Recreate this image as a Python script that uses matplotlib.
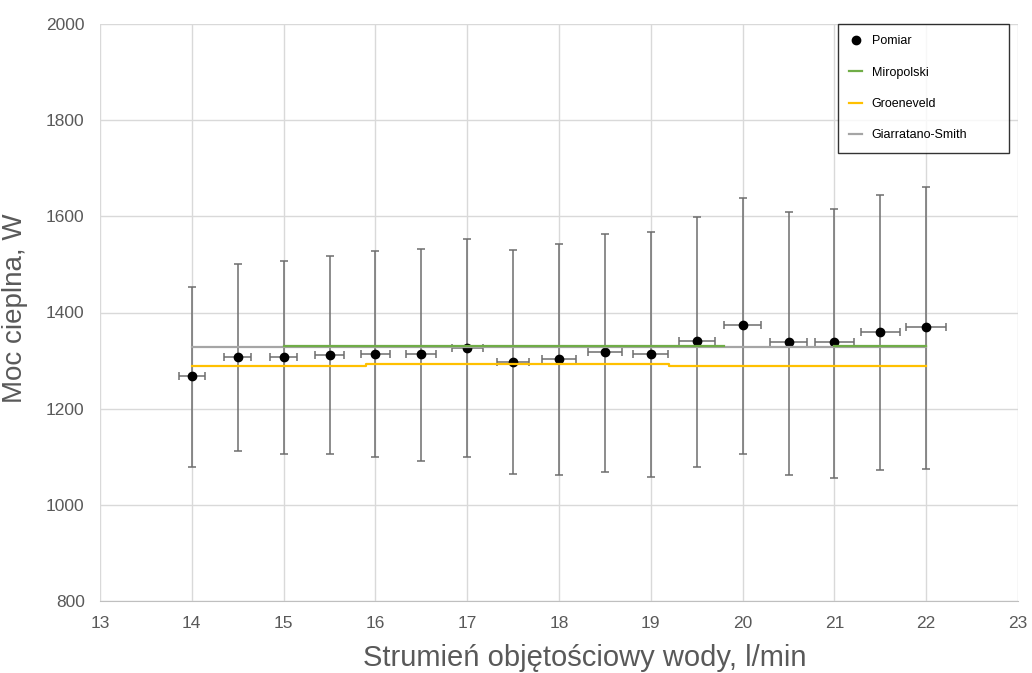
import numpy as np
import matplotlib
matplotlib.use("Agg")
import matplotlib.pyplot as plt
from matplotlib.lines import Line2D

plt.rcParams['font.family'] = ['Liberation Sans', 'DejaVu Sans']

# pomiar: strumien [l/min], moc [W], dolna i gorna granica bledu [W]
flow = [14, 14.5, 15, 15.5, 16, 16.5, 17, 17.5, 18, 18.5, 19, 19.5, 20, 20.5, 21, 21.5, 22]
power = [1268, 1307, 1307, 1311, 1313, 1313, 1326, 1297, 1303, 1318, 1313, 1340, 1374, 1338, 1338, 1359, 1370]
power_lo = [1079, 1112, 1106, 1106, 1100, 1092, 1100, 1064, 1062, 1069, 1058, 1079, 1106, 1062, 1056, 1073, 1075]
power_hi = [1453, 1500, 1507, 1517, 1527, 1532, 1553, 1530, 1542, 1563, 1567, 1598, 1638, 1609, 1615, 1644, 1661]
flow_rel_err = 0.01

# korelacje (schodkowo); nan = odcinek schowany pod Giarratano-Smith
mir_x = [14, 15, 19.8, 21, 22]
mir_y = [np.nan, 1331, np.nan, 1330, 1330]
gro_x = [14, 15.9, 19.2, 22]
gro_y = [1289, 1293, 1289, 1289]
gs_x = [14, 22]
gs_y = [1328, 1328]

W, H = 1032, 673
fig = plt.figure(figsize=(W / 100, H / 100), dpi=100)
ax = fig.add_axes([100 / W, 1 - 601 / H, 918 / W, 577 / H])

flow = np.array(flow)
power = np.array(power)
yerr = [power - np.array(power_lo), np.array(power_hi) - power]
xerr = flow * flow_rel_err

ax.errorbar(flow, power, yerr=yerr, xerr=xerr, fmt='o', color='black', ms=6,
            ecolor='#6d6d6d', elinewidth=1.1, capsize=2.8, capthick=1.1, zorder=3)
gs_line, = ax.plot(gs_x, gs_y, drawstyle='steps-post', color='#A5A5A5', lw=1.6, zorder=4)
gro_line, = ax.plot(gro_x, gro_y, drawstyle='steps-post', color='#FFC000', lw=1.6, zorder=4)
mir_line, = ax.plot(mir_x, mir_y, drawstyle='steps-post', color='#70AD47', lw=1.6, zorder=5)

ax.set_xlim(13, 23)
ax.set_ylim(800, 2000)
ax.set_xticks(range(13, 24))
ax.set_yticks(range(800, 2001, 200))
ax.grid(True, color='#d9d9d9', lw=1)
ax.set_axisbelow(True)
for s in ['top', 'right', 'left']:
    ax.spines[s].set_visible(False)
ax.spines['bottom'].set_color('#bfbfbf')
ax.tick_params(length=0, labelsize=12.5, labelcolor='#595959', pad=11)

ax.set_xlabel('Strumień objętościowy wody, l/min', fontsize=21, color='#595959')
ax.set_ylabel('Moc cieplna, W', fontsize=20, color='#595959')
ax.xaxis.label.set_va('baseline')
ax.xaxis.set_label_coords(0.528, -0.113)
ax.yaxis.set_label_coords(-0.078, 0.507)

pom = Line2D([], [], marker='o', color='black', ls='none', ms=6)
leg = ax.legend([pom, mir_line, gro_line, gs_line],
                ['Pomiar', 'Miropolski', 'Groeneveld', 'Giarratano-Smith'],
                loc='upper left', bbox_to_anchor=(838 / W, 1 - 24 / H, 171 / W, 0.0),
                bbox_transform=fig.transFigure, mode='expand', fontsize=9,
                frameon=True, fancybox=False, edgecolor='black', handlelength=1.0,
                labelspacing=1.55, borderpad=0.9, borderaxespad=0)
leg.get_frame().set_linewidth(1.0)

fig.savefig('out.png', dpi=100)
